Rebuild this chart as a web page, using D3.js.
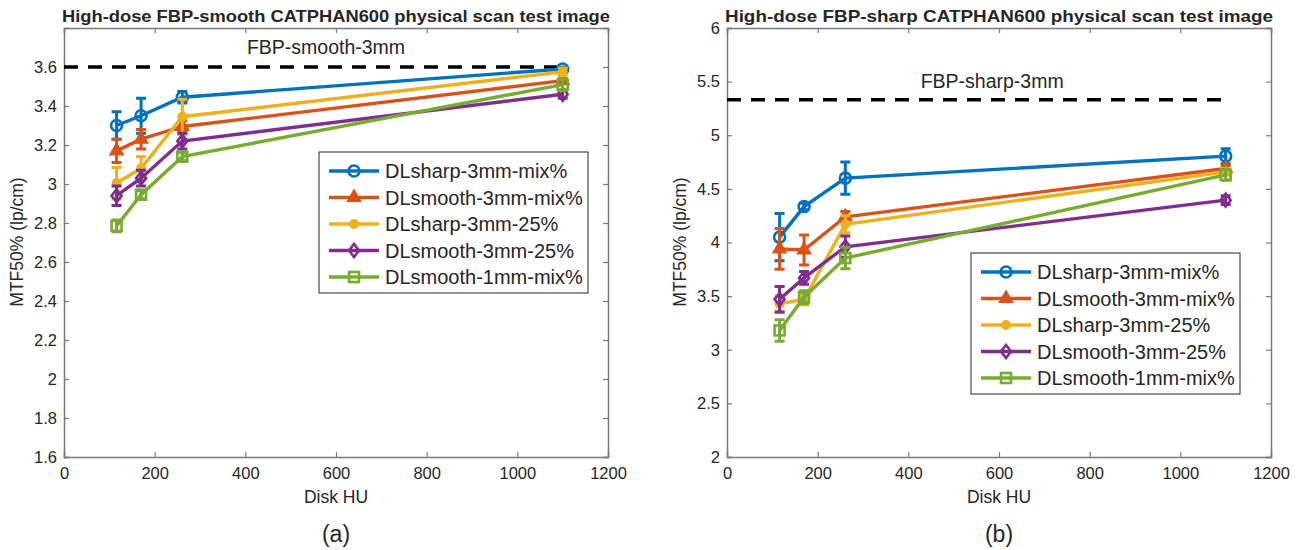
<!DOCTYPE html>
<html>
<head>
<meta charset="utf-8">
<script src="https://cdn.jsdelivr.net/npm/d3@7"></script>
<style>
  body { margin: 0; background: #fff; }
  text { font-family: "Liberation Sans", Arial, sans-serif; fill: #262626; }
</style>
</head>
<body>
<svg id="fig" width="1299" height="550"></svg>
<script>
// ---- data ----
var diskHU = [116, 170, 261, 1100];
var seriesNames = ["DLsharp-3mm-mix%", "DLsmooth-3mm-mix%", "DLsharp-3mm-25%", "DLsmooth-3mm-25%", "DLsmooth-1mm-mix%"];
var seriesColors = ["#0072BD", "#D95319", "#EDB120", "#7E2F8E", "#77AC30"];
var seriesMarkers = ["circle", "triangle", "dot", "diamond", "square"];

// (a) FBP-smooth
var smoothMean = [
  [3.30, 3.35, 3.445, 3.59],
  [3.17, 3.23, 3.295, 3.53],
  [3.005, 3.08, 3.345, 3.575],
  [2.94, 3.03, 3.22, 3.46],
  [2.785, 2.945, 3.14, 3.51]
];
var smoothErr = [
  [0.07, 0.09, 0.03, 0.01],
  [0.06, 0.05, 0.03, 0.01],
  [0.08, 0.06, 0.09, 0.02],
  [0.05, 0.04, 0.04, 0.02],
  [0.03, 0.02, 0.02, 0.03]
];
var smoothRef = 3.6;
var smoothYTicks = [1.6, 1.8, 2, 2.2, 2.4, 2.6, 2.8, 3, 3.2, 3.4, 3.6];

// (b) FBP-sharp
var sharpMean = [
  [4.05, 4.335, 4.6, 4.805],
  [3.94, 3.93, 4.24, 4.69],
  [3.43, 3.47, 4.17, 4.66],
  [3.47, 3.67, 3.96, 4.395],
  [3.18, 3.49, 3.855, 4.63]
];
var sharpErr = [
  [0.22, 0.03, 0.15, 0.07],
  [0.19, 0.14, 0.05, 0.03],
  [0.07, 0.05, 0.08, 0.03],
  [0.12, 0.06, 0.10, 0.04],
  [0.10, 0.06, 0.10, 0.05]
];
var sharpRef = 5.33;
var sharpYTicks = [2, 2.5, 3, 3.5, 4, 4.5, 5, 5.5, 6];

var xTicks = [0, 200, 400, 600, 800, 1000, 1200];

var svg = d3.select("#fig");

function drawMarker(g, type, color) {
  if (type == "circle") {
    g.append("circle").attr("r", 5.5).attr("fill", "none").attr("stroke", color).attr("stroke-width", 2.6);
  } else if (type == "triangle") {
    g.append("path").attr("d", d3.symbol().type(d3.symbolTriangle).size(75)())
      .attr("fill", color).attr("stroke", color).attr("stroke-width", 1.5);
  } else if (type == "dot") {
    g.append("circle").attr("r", 5).attr("fill", color);
  } else if (type == "diamond") {
    g.append("path").attr("d", "M0,-6.5L5,0L0,6.5L-5,0Z")
      .attr("fill", "none").attr("stroke", color).attr("stroke-width", 2.6);
  } else {
    g.append("rect").attr("x", -5).attr("y", -5).attr("width", 10).attr("height", 10)
      .attr("fill", "none").attr("stroke", color).attr("stroke-width", 2.6);
  }
}

function panel(opt) {
  var x = d3.scaleLinear().domain([0, 1200]).range([opt.left, opt.left + 544]);
  var y = d3.scaleLinear().domain(opt.ydom).range([457, 28]);
  var g = svg.append("g");

  // axes (MATLAB box style, ticks inside)
  g.append("g").attr("transform", "translate(0,457)")
    .call(d3.axisBottom(x).tickValues(xTicks).tickSize(-5).tickPadding(10).tickFormat(d3.format("d")));
  g.append("g").attr("transform", "translate(0,28)")
    .call(d3.axisTop(x).tickValues(xTicks).tickSize(-5).tickFormat(""));
  g.append("g").attr("transform", "translate(" + opt.left + ",0)")
    .call(d3.axisLeft(y).tickValues(opt.yticks).tickSize(-5).tickPadding(7).tickFormat(d3.format("")));
  g.append("g").attr("transform", "translate(" + (opt.left + 544) + ",0)")
    .call(d3.axisRight(y).tickValues(opt.yticks).tickSize(-5).tickFormat(""));
  g.selectAll(".domain").attr("stroke", "#7a7a7a").attr("stroke-width", 1.5);
  g.selectAll(".tick line").attr("stroke", "#7a7a7a").attr("stroke-width", 1.2);
  g.selectAll(".tick text").style("font-size", "16.5px").style("font-family", "Liberation Sans, Arial").attr("fill", "#262626");

  // reference dashed line
  g.append("line")
    .attr("x1", x(0)).attr("x2", x(1100))
    .attr("y1", y(opt.ref)).attr("y2", y(opt.ref))
    .attr("stroke", "#000").attr("stroke-width", 3.5).attr("stroke-dasharray", "14,10");
  g.append("text").attr("x", x(opt.refLabelX)).attr("y", y(opt.refLabelY))
    .attr("text-anchor", "middle").style("font-size", "19.5px").text(opt.refLabel);

  // series
  opt.mean.forEach(function (vals, i) {
    var col = seriesColors[i];
    var pts = vals.map(function (v, j) { return {x: diskHU[j], y: v, e: opt.err[i][j]}; });
    var sg = g.append("g");
    sg.append("path").datum(pts)
      .attr("d", d3.line().x(function (d) { return x(d.x); }).y(function (d) { return y(d.y); }))
      .attr("fill", "none").attr("stroke", col).attr("stroke-width", 3.4);
    pts.forEach(function (d) {
      var cx = x(d.x), yt = y(d.y + d.e), yb = y(d.y - d.e);
      sg.append("path")
        .attr("d", "M" + cx + "," + yt + "V" + yb + "M" + (cx - 5) + "," + yt + "H" + (cx + 5) + "M" + (cx - 5) + "," + yb + "H" + (cx + 5))
        .attr("fill", "none").attr("stroke", col).attr("stroke-width", 3);
      var mg = sg.append("g").attr("transform", "translate(" + cx + "," + y(d.y) + ")");
      drawMarker(mg, seriesMarkers[i], col);
    });
  });

  // legend
  var lg = g.append("g").attr("transform", "translate(" + opt.legX + "," + opt.legY + ")");
  lg.append("rect").attr("width", opt.legW).attr("height", 141)
    .attr("fill", "#fff").attr("stroke", "#262626").attr("stroke-width", 1);
  seriesNames.forEach(function (name, i) {
    var ry = 19 + i * 26.5;
    lg.append("line").attr("x1", 10).attr("x2", 60).attr("y1", ry).attr("y2", ry)
      .attr("stroke", seriesColors[i]).attr("stroke-width", 3.4);
    var mg = lg.append("g").attr("transform", "translate(35," + ry + ")");
    drawMarker(mg, seriesMarkers[i], seriesColors[i]);
    lg.append("text").attr("x", 66).attr("y", ry + 7).style("font-size", "20px").text(name);
  });

  // titles and labels
  var cx = opt.left + 272;
  g.append("text").attr("x", cx).attr("y", 22).attr("text-anchor", "middle")
    .style("font-size", "17px").style("font-weight", "bold").attr("fill", "#000")
    .attr("textLength", 548).attr("lengthAdjust", "spacingAndGlyphs").text(opt.title);
  g.append("text").attr("x", cx).attr("y", 503).attr("text-anchor", "middle")
    .style("font-size", "17.5px").text("Disk HU");
  g.append("text").attr("transform", "translate(" + (opt.left - 41) + ",242) rotate(-90)")
    .attr("text-anchor", "middle").style("font-size", "17.5px").text("MTF50% (lp/cm)");
  g.append("text").attr("x", cx).attr("y", 542).attr("text-anchor", "middle")
    .style("font-size", "23px").text(opt.tag);
}

panel({
  left: 64, ydom: [1.6, 3.8], yticks: smoothYTicks,
  mean: smoothMean, err: smoothErr, ref: smoothRef,
  refLabel: "FBP-smooth-3mm", refLabelX: 578, refLabelY: 3.665,
  legX: 319, legY: 152, legW: 269,
  title: "High-dose FBP-smooth CATPHAN600 physical scan test image", tag: "(a)"
});
panel({
  left: 727, ydom: [2, 6], yticks: sharpYTicks,
  mean: sharpMean, err: sharpErr, ref: sharpRef,
  refLabel: "FBP-sharp-3mm", refLabelX: 585, refLabelY: 5.44,
  legX: 971, legY: 253, legW: 269,
  title: "High-dose FBP-sharp CATPHAN600 physical scan test image", tag: "(b)"
});
</script>
</body>
</html>
